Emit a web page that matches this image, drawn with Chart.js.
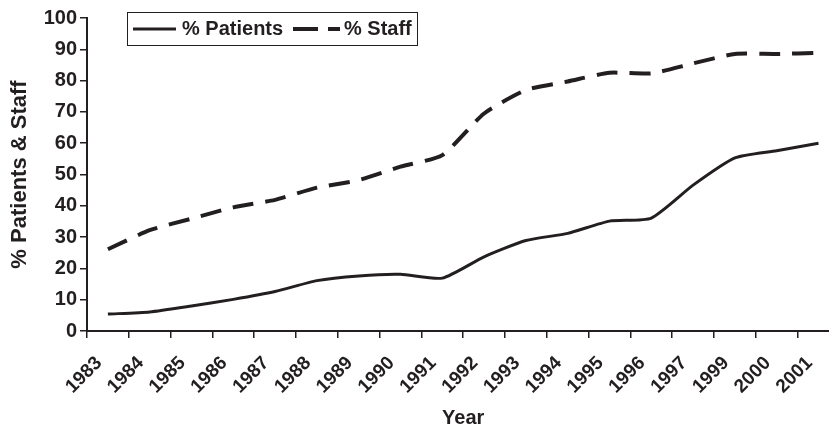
<!DOCTYPE html>
<html>
<head>
<meta charset="utf-8">
<script src="https://cdn.jsdelivr.net/npm/chart.js@4"></script>
<style>
html, body { margin: 0; padding: 0; background: #fff; overflow: hidden; }
#wrap { width: 829px; height: 430px; overflow: hidden; }
</style>
</head>
<body>
<div id="wrap"><canvas id="trendChart" width="850" height="430"></canvas></div>
<script>
// values
const years = ["1983", "1984", "1985", "1986", "1987", "1988", "1989", "1990", "1991",
    "1992", "1993", "1994", "1995", "1996", "1997", "1999", "2000", "2001"];
const patients = [5.4, 6.1, 8.0, 10.1, 12.6, 16.1, 17.6, 18.1, 16.9,
    23.7, 28.9, 31.2, 35.1, 36.1, 46.6, 55.3, 57.6, 60.0];
const staff = [26.1, 32.2, 35.9, 39.5, 41.9, 45.8, 48.2, 52.5, 56.2,
    69.5, 77.0, 79.7, 82.5, 82.3, 85.5, 88.5, 88.5, 88.9];
const yMin = 0, yMax = 100, yStep = 10;

const ink = "#231f20";
const fontFamily = "'Liberation Sans', Arial, Helvetica, sans-serif";
const staffDash = [21, 12];

// legend drawn inside the plot, boxed like the original
const boxLegend = {
    id: 'boxLegend',
    afterDraw(chart) {
        const ctx = chart.ctx;
        ctx.save();
        ctx.strokeStyle = ink;
        ctx.lineWidth = 1;
        ctx.strokeRect(127.5, 12.5, 290, 33);

        ctx.lineWidth = 3;
        ctx.beginPath();
        ctx.moveTo(133, 29);
        ctx.lineTo(176, 29);
        ctx.stroke();

        ctx.lineWidth = 4;
        ctx.setLineDash([25, 10]);
        ctx.beginPath();
        ctx.moveTo(293, 29);
        ctx.lineTo(340, 29);
        ctx.stroke();
        ctx.setLineDash([]);

        ctx.fillStyle = ink;
        ctx.font = "bold 20px " + fontFamily;
        ctx.textBaseline = "middle";
        ctx.fillText(chart.data.datasets[0].label, 182, 29);
        ctx.fillText(chart.data.datasets[1].label, 344, 29);
        ctx.restore();
    }
};

let ctx = document.getElementById("trendChart").getContext('2d');
new Chart(ctx, {
    type: 'line',
    data: {
        labels: years,
        datasets: [{
            label: "% Patients",
            data: patients,
            borderColor: ink,
            borderWidth: 3,
            pointRadius: 0,
            tension: 0.2,
            fill: false
        }, {
            label: "% Staff",
            data: staff,
            borderColor: ink,
            borderWidth: 4,
            borderDash: staffDash,
            pointRadius: 0,
            tension: 0.2,
            fill: false
        }]
    },
    options: {
        responsive: false,
        animation: false,
        layout: { padding: { top: 18, right: 10.6, bottom: 0, left: 0 } },
        plugins: {
            legend: { display: false },
            tooltip: { enabled: false }
        },
        scales: {
            x: {
                type: 'category',
                offset: true,
                border: { display: true, color: ink, width: 2 },
                grid: { offset: true, drawOnChartArea: false, drawTicks: true, tickLength: 7, color: ink, lineWidth: 1.5 },
                ticks: {
                    autoSkip: false, maxRotation: 45, minRotation: 45,
                    color: ink, padding: 14, labelOffset: -9,
                    font: { family: fontFamily, size: 19, weight: 'bold' }
                },
                title: {
                    display: true, text: "Year", color: ink,
                    padding: { top: 0, bottom: 0 },
                    font: { family: fontFamily, size: 20, weight: 'bold' }
                },
                afterFit: s => { s.height = 430 - 331; }
            },
            y: {
                min: yMin, max: yMax,
                border: { display: true, color: ink, width: 2 },
                grid: { drawOnChartArea: false, drawTicks: true, tickLength: 7, color: ink, lineWidth: 1.5 },
                ticks: {
                    stepSize: yStep, color: ink, padding: 3,
                    font: { family: fontFamily, size: 20, weight: 'bold' }
                },
                title: {
                    display: true, text: "% Patients & Staff", color: ink,
                    padding: { top: 7, bottom: 0 },
                    font: { family: fontFamily, size: 22, weight: 'bold' }
                },
                afterFit: s => { s.width = 87; }
            }
        }
    },
    plugins: [boxLegend]
});
</script>
</body>
</html>
